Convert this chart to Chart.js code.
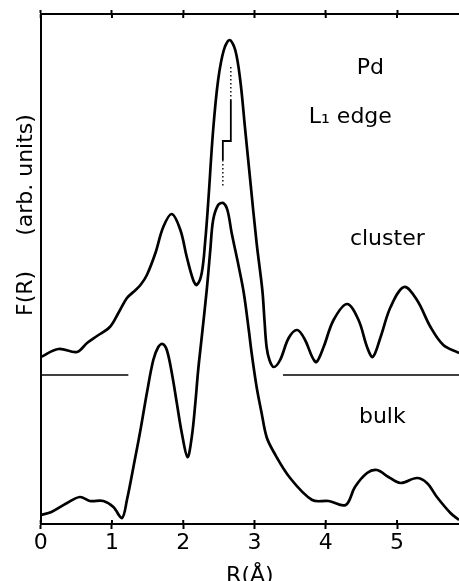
<!DOCTYPE html>
<html><head><meta charset="utf-8">
<script src="https://cdn.jsdelivr.net/npm/chart.js@4.4.0/dist/chart.umd.min.js"></script>
<style>html,body{margin:0;padding:0;background:#fff;}canvas{display:block;}</style>
</head><body>
<canvas id="c" width="459" height="581"></canvas>
<script>
// ---- data (R in Å, F(R) in arbitrary units) ----
const xTicks = [0, 1, 2, 3, 4, 5];
const clusterR = [0.00,0.25,0.51,0.65,0.79,0.97,1.09,1.21,1.30,1.40,1.49,1.61,1.72,1.84,1.96,2.05,2.14,2.19,2.26,2.31,2.35,2.42,2.49,2.57,2.65,2.73,2.80,2.87,2.94,3.03,3.11,3.14,3.17,3.21,3.27,3.36,3.48,3.60,3.71,3.81,3.87,3.97,4.11,4.30,4.46,4.58,4.66,4.77,4.91,5.10,5.28,5.47,5.65,5.87];
const clusterF = [167,175,172,181,188,197,211,226,232,239,249,271,297,310,294,267,244,239,251,284,321,394,444,474,484,474,444,394,344,281,234,204,177,164,157,164,186,194,184,167,162,177,204,220,204,177,167,187,217,237,224,197,179,171];
const bulkR = [0.00,0.15,0.37,0.55,0.69,0.88,1.02,1.14,1.21,1.32,1.40,1.49,1.58,1.65,1.71,1.77,1.84,1.91,1.98,2.06,2.12,2.17,2.21,2.26,2.33,2.38,2.42,2.49,2.56,2.62,2.68,2.78,2.85,2.92,2.96,3.03,3.10,3.17,3.27,3.50,3.81,4.04,4.28,4.41,4.58,4.72,4.88,5.05,5.28,5.42,5.56,5.75,5.87];
const bulkF = [9,12,21,27,23,23,17,6,24,64,94,131,164,177,180,174,151,121,91,67,87,121,154,187,234,274,304,319,321,314,291,257,231,194,171,137,111,87,72,46,24,23,19,37,51,54,47,41,46,41,27,11,4];
const baseLeftR = [0, 1.23];
const baseRightR = [3.40, 5.87];
const baseF = [149, 149];
const markTopR = [2.668, 2.668];
const markTopF = [457, 424];
const markStepR = [2.668, 2.668, 2.556, 2.556];
const markStepF = [424, 383, 383, 364];
const markLowR = [2.556, 2.556];
const markLowF = [364, 337];
const xTitle = 'R(Å)';
const yTitle = 'F(R)     (arb. units)';

const pts = (xs, ys) => xs.map((v, i) => ({x: v, y: ys[i]}));
const FONT = '"DejaVu Sans", sans-serif';

const curve = (xs, ys) => ({data: pts(xs, ys), borderColor: '#000', borderWidth: 2.7, pointRadius: 0, tension: 0.35, fill: false});
const seg = (xs, ys, w, dash) => ({data: pts(xs, ys), borderColor: '#000', borderWidth: w, pointRadius: 0, tension: 0, borderDash: dash || [], fill: false});

const overlay = {
  id: 'overlay',
  afterDraw(chart) {
    const {ctx, chartArea} = chart;
    const x = chart.scales.x, y = chart.scales.y;
    ctx.save();
    ctx.strokeStyle = '#000';
    ctx.lineWidth = 2;
    xTicks.forEach(t => {
      const px = x.getPixelForValue(t);
      ctx.beginPath();
      ctx.moveTo(px, chartArea.bottom); ctx.lineTo(px, chartArea.bottom - 4);
      ctx.moveTo(px, chartArea.top); ctx.lineTo(px, chartArea.top + 4);
      ctx.stroke();
    });
    ctx.fillStyle = '#000';
    ctx.font = '22px ' + FONT;
    ctx.textAlign = 'center';
    ctx.textBaseline = 'alphabetic';
    const labels = [
      {t: 'Pd', r: 4.625, f: 450},
      {t: 'L\u2081 edge', r: 4.345, f: 401},
      {t: 'cluster', r: 4.864, f: 279},
      {t: 'bulk', r: 4.794, f: 101}
    ];
    labels.forEach(l => ctx.fillText(l.t, x.getPixelForValue(l.r), y.getPixelForValue(l.f)));
    ctx.translate(32, 215);
    ctx.rotate(-Math.PI / 2);
    ctx.fillText(yTitle, 0, 0);
    ctx.restore();
  }
};

new Chart(document.getElementById('c'), {
  type: 'line',
  data: {
    datasets: [
      curve(clusterR, clusterF),
      curve(bulkR, bulkF),
      seg(baseLeftR, baseF, 1.6),
      seg(baseRightR, baseF, 1.6),
      seg(markTopR, markTopF, 1.4, [1.5, 2.5]),
      seg(markStepR, markStepF, 1.8),
      seg(markLowR, markLowF, 1.4, [1.5, 2.5])
    ]
  },
  options: {
    responsive: false,
    animation: false,
    events: [],
    layout: {padding: 0},
    plugins: {legend: {display: false}, tooltip: {enabled: false}},
    scales: {
      x: {
        type: 'linear', position: 'bottom', min: 0, max: 5.87,
        ticks: {stepSize: 1, includeBounds: false, color: '#000', font: {family: FONT, size: 22}, padding: 1, maxRotation: 0},
        grid: {drawOnChartArea: false, drawTicks: true, tickLength: 5, tickWidth: 2, color: '#000'},
        border: {display: true, color: '#000', width: 2},
        title: {display: true, text: xTitle, color: '#000', font: {family: FONT, size: 22}, padding: {top: 0, bottom: -8}},
        afterFit(s) { s.height = 57; }
      },
      x2: {
        type: 'linear', position: 'top', min: 0, max: 5.87,
        ticks: {display: false, stepSize: 1, includeBounds: false},
        grid: {drawOnChartArea: false, drawTicks: true, tickLength: 4, tickWidth: 2, color: '#000'},
        border: {display: true, color: '#000', width: 2},
        afterFit(s) { s.height = 14; }
      },
      y: {
        type: 'linear', min: 0, max: 510,
        ticks: {display: false},
        grid: {display: false, drawTicks: false},
        border: {display: true, color: '#000', width: 2},
        afterFit(s) { s.width = 40.7; }
      }
    }
  },
  plugins: [overlay]
});
</script>
</body></html>
